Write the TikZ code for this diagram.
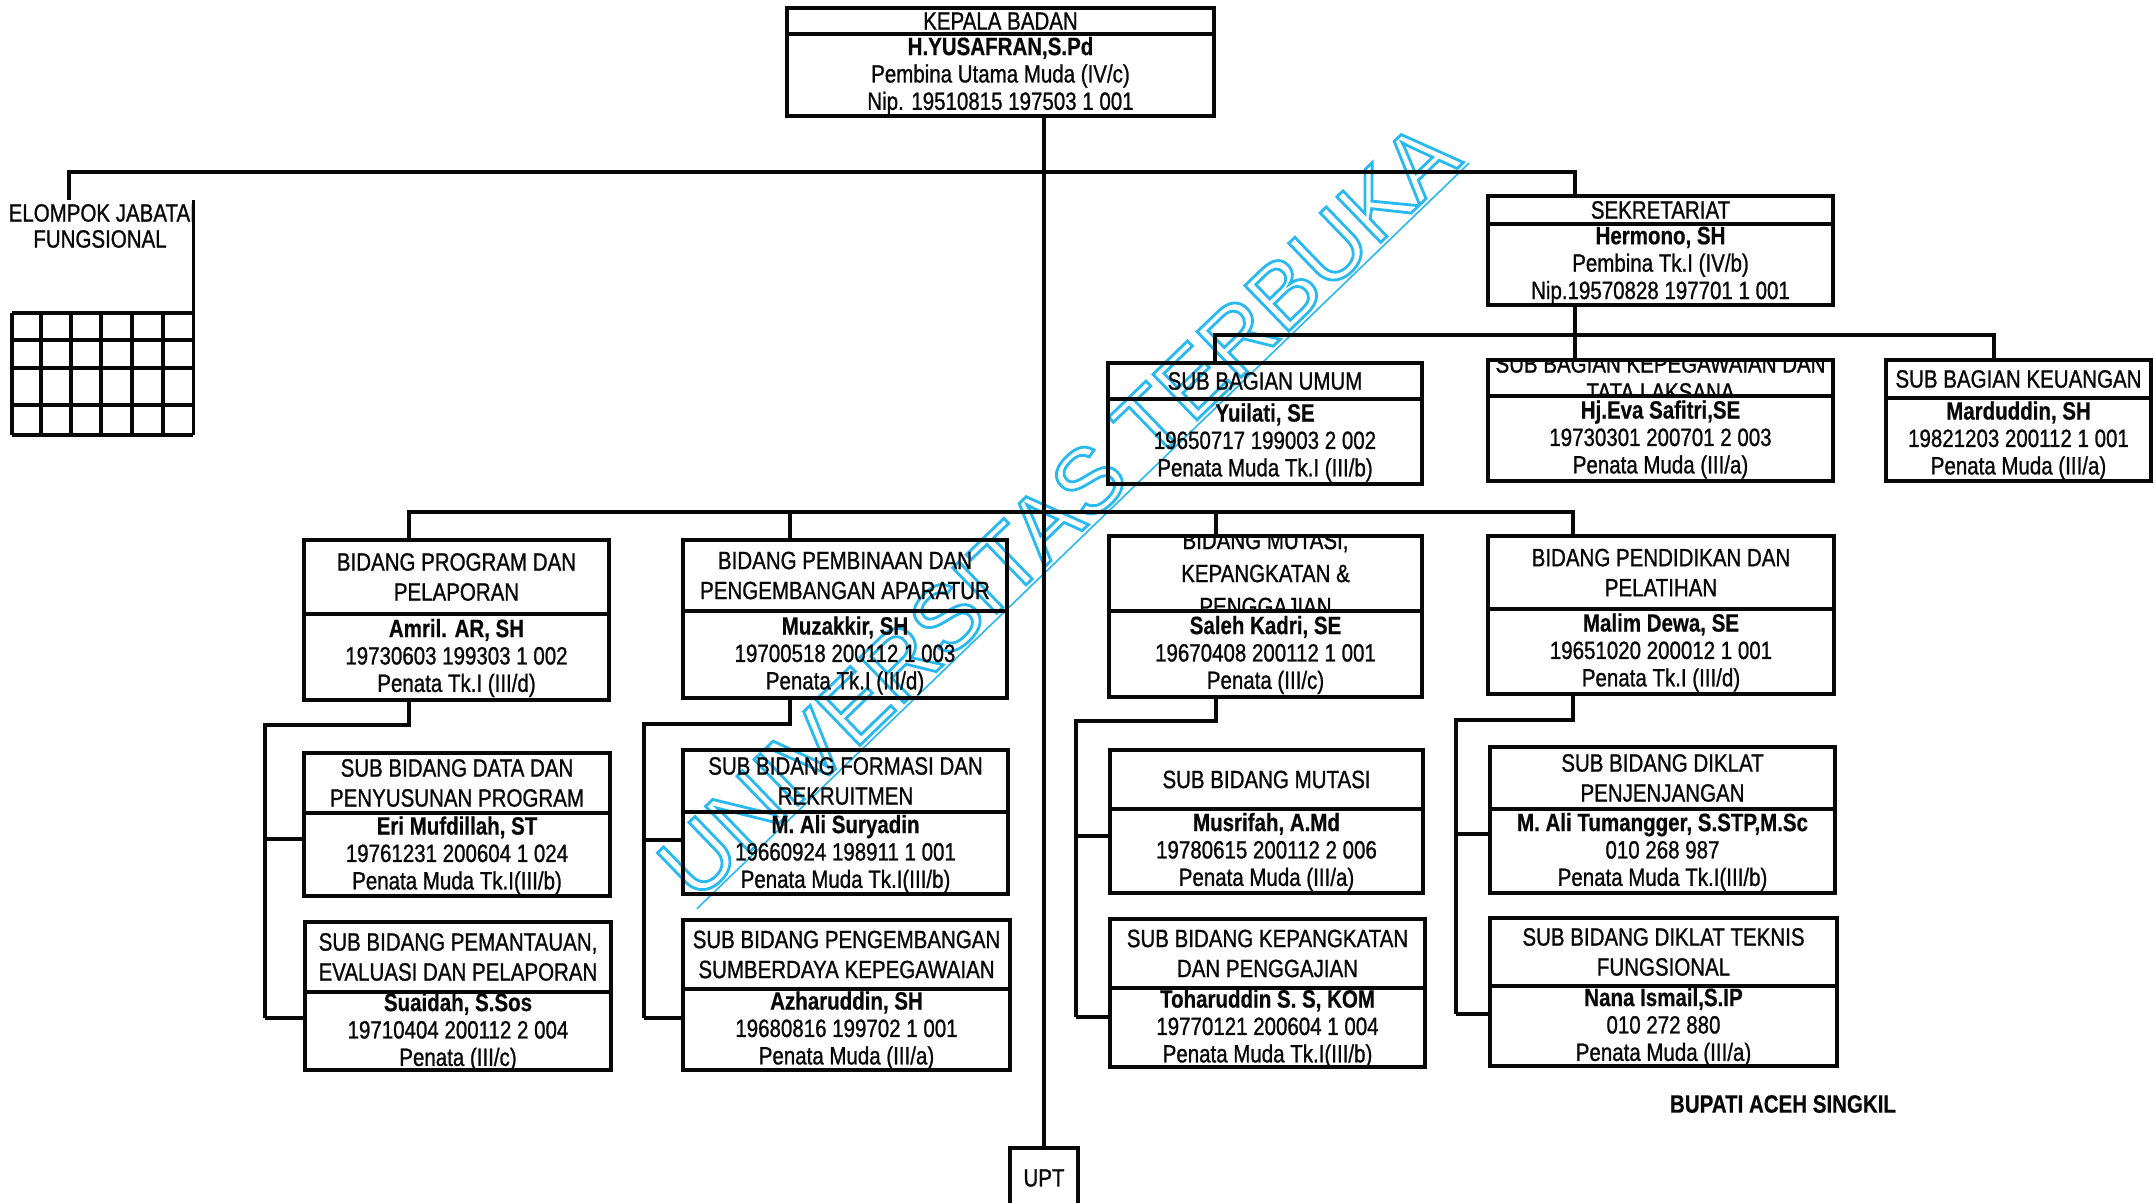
\documentclass[tikz,border=0pt]{standalone}
\usepackage{fontspec}
\setmainfont{Liberation Sans}[FakeStretch=0.82,
  UprightFeatures={FakeBold=1.0}, BoldFeatures={FakeBold=0.6}]
\newfontfamily\markfont{Liberation Sans}
\usetikzlibrary{fit}

\definecolor{inkblack}{RGB}{8,8,8}
\definecolor{markblue}{RGB}{40,185,240}

\tikzset{
  x=0.5pt, y=-0.5pt,
  unitframe/.style={draw=inkblack, line width=1.8pt, inner sep=0pt},
  unitline/.style={draw=inkblack, line width=1.7pt},
  unittitle/.style={inner sep=0pt, align=center, text=inkblack,
    font=\fontsize{12.5}{15}\selectfont},
  unitbody/.style={inner sep=0pt, align=center, text=inkblack,
    font=\fontsize{12.5}{13.7}\selectfont},
  link/.style={draw=inkblack, line width=1.6pt},
  gridline/.style={draw=inkblack, line width=2.2pt},
  plainlabel/.style={inner sep=0pt, align=center, text=inkblack,
    font=\fontsize{12.5}{13}\selectfont},
  stamp/.style={inner sep=1.5pt, text=markblue,
    font=\markfont\fontsize{46}{46}\selectfont},
  stampline/.style={draw=markblue, line width=0.8pt},
}

% #1 name, #2-#5 corners (x1,y1,x2,y2), #6 y of title divider,
% #7 title, #8 holder (bold), #9 remaining lines
\newcommand\orgunit[9]{%
  \node[unitframe, fit={(#2,#3) (#4,#5)}] (#1) {};
  \draw[unitline] (#1.west |- 0,#6) -- (#1.east |- 0,#6);
  \begin{scope}
    \clip (#1.north west) rectangle (#1.east |- 0,#6);
    \node[unittitle] (#1-title) at ({(#2+#4)/2},{(#3+#6)/2}) {#7};
  \end{scope}
  \node[unitbody] (#1-body) at ({(#2+#4)/2},{(#6+#5)/2+1}) {\textbf{#8}\\#9};
}

\begin{document}
\begin{tikzpicture}
\fill[white] (0,0) rectangle (2154,1203);
\useasboundingbox (0,0) rectangle (2154,1203);

% ---------- stamped watermark (outlined letters), set before the black text ----------
\node[stamp, rotate=44] (stamp) at (1058,510)
  {\special{pdf:literal direct 1 Tr 1.4 w}UNIVERSITAS TERBUKA};
\draw[stampline] (stamp.south west) -- (stamp.south east);

% ---------- head ----------
\orgunit{kepala}{787}{8}{1214}{116}{34}{KEPALA BADAN}{H.YUSAFRAN,S.Pd}
  {Pembina Utama Muda (IV/c)\\Nip. 19510815 197503 1 001}

% ---------- secretariat ----------
\orgunit{sek}{1488}{196}{1833}{305}{224}{SEKRETARIAT}{Hermono, SH}
  {Pembina Tk.I (IV/b)\\Nip.19570828 197701 1 001}

\orgunit{umum}{1108}{363}{1422}{484}{399}{SUB BAGIAN UMUM}{Yuilati, SE}
  {19650717 199003 2 002\\Penata Muda Tk.I (III/b)}
\orgunit{kepeg}{1488}{360}{1833}{481}{396}{SUB BAGIAN KEPEGAWAIAN DAN\\[-1pt]TATA LAKSANA}
  {Hj.Eva Safitri,SE}{19730301 200701 2 003\\Penata Muda (III/a)}
\orgunit{keu}{1886}{360}{2151}{481}{398}{SUB BAGIAN KEUANGAN}{Marduddin, SH}
  {19821203 200112 1 001\\Penata Muda (III/a)}

% ---------- divisions ----------
\orgunit{prog}{304}{540}{609}{700}{614}{BIDANG PROGRAM DAN\\PELAPORAN}{Amril. AR, SH}
  {19730603 199303 1 002\\Penata Tk.I (III/d)}
\orgunit{pemb}{683}{540}{1007}{698}{611}{BIDANG PEMBINAAN DAN\\PENGEMBANGAN APARATUR}
  {Muzakkir, SH}{19700518 200112 1 003\\Penata Tk.I (III/d)}
\orgunit{mut}{1109}{536}{1422}{697}{611}{BIDANG MUTASI,\\[1.5pt]KEPANGKATAN \&\\[1.5pt]PENGGAJIAN}
  {Saleh Kadri, SE}{19670408 200112 1 001\\Penata (III/c)}
\orgunit{pend}{1488}{536}{1834}{694}{609}{BIDANG PENDIDIKAN DAN\\PELATIHAN}
  {Malim Dewa, SE}{19651020 200012 1 001\\Penata Tk.I (III/d)}

% ---------- sub-divisions ----------
\orgunit{data}{304}{753}{610}{896}{813}{SUB BIDANG DATA DAN\\PENYUSUNAN PROGRAM}
  {Eri Mufdillah, ST}{19761231 200604 1 024\\Penata Muda Tk.I(III/b)}
\orgunit{pant}{305}{922}{611}{1070}{992}{SUB BIDANG PEMANTAUAN,\\EVALUASI DAN PELAPORAN}
  {Suaidah, S.Sos}{19710404 200112 2 004\\Penata (III/c)}

\orgunit{form}{683}{750}{1008}{894}{812}{SUB BIDANG FORMASI DAN\\REKRUITMEN}
  {M. Ali Suryadin}{19660924 198911 1 001\\Penata Muda Tk.I(III/b)}
\orgunit{peng}{683}{920}{1010}{1070}{989}{SUB BIDANG PENGEMBANGAN\\SUMBERDAYA KEPEGAWAIAN}
  {Azharuddin, SH}{19680816 199702 1 001\\Penata Muda (III/a)}

\orgunit{smut}{1110}{750}{1423}{893}{809}{SUB BIDANG MUTASI}
  {Musrifah, A.Md}{19780615 200112 2 006\\Penata Muda (III/a)}
\orgunit{kpk}{1110}{919}{1425}{1067}{988}{SUB BIDANG KEPANGKATAN\\DAN PENGGAJIAN}
  {Toharuddin S. S, KOM}{19770121 200604 1 004\\Penata Muda Tk.I(III/b)}

\orgunit{penj}{1490}{747}{1835}{893}{809}{SUB BIDANG DIKLAT\\PENJENJANGAN}
  {M. Ali Tumangger, S.STP,M.Sc}{010 268 987\\Penata Muda Tk.I(III/b)}
\orgunit{tekn}{1490}{918}{1837}{1066}{986}{SUB BIDANG DIKLAT TEKNIS\\FUNGSIONAL}
  {Nana Ismail,S.IP}{010 272 880\\Penata Muda (III/a)}

% ---------- technical unit ----------
\node[unitframe, fit={(1010,1148) (1078,1215)}] (upt) {};
\node[plainlabel] (upt-label) at (1044,1178) {UPT};

% ---------- functional group (cut at the left edge) ----------
\node[inner sep=0pt, fit={(12,200) (193,435)}] (kjf) {};
\begin{scope}
  \clip (10,190) rectangle (192,260);
  \node[plainlabel, font=\fontsize{12.5}{13}\selectfont] (kjf-title) at (100,226)
    {KELOMPOK JABATAN\\FUNGSIONAL};
\end{scope}
\draw[unitline] (kjf.north east) -- (kjf.south east);
\foreach \gy in {313,340,368,405,435}
  \draw[gridline] (kjf.west |- 0,\gy) -- (kjf.east |- 0,\gy);
\foreach \gx in {12,41,71,101,132,163}
  \draw[gridline] (\gx,313) -- (\gx,435);

% ---------- connectors ----------
\coordinate (spine) at (upt.north);
\draw[link] (spine |- kepala.south) -- (spine);

\coordinate (kjfjoin) at (69,172);
\coordinate (sekjoin) at (1575,172);
\draw[link] (kjfjoin |- kjf.north) -- (kjfjoin) -- (sekjoin) -- (sekjoin |- sek.north);

\coordinate (sekbus) at (1575,335);
\coordinate (umumjoin) at (1215,335);
\coordinate (keujoin) at (1994,335);
\draw[link] (sekbus |- sek.south) -- (sekbus);
\draw[link] (umumjoin |- umum.north) -- (umumjoin) -- (keujoin) -- (keujoin |- keu.north);
\draw[link] (sekbus) -- (sekbus |- kepeg.north);

\coordinate (progjoin) at (409,512);
\coordinate (pembjoin) at (790,512);
\coordinate (mutjoin) at (1216,512);
\coordinate (pendjoin) at (1573,512);
\draw[link] (progjoin |- prog.north) -- (progjoin) -- (pendjoin) -- (pendjoin |- pend.north);
\draw[link] (pembjoin) -- (pembjoin |- pemb.north);
\draw[link] (mutjoin) -- (mutjoin |- mut.north);

% division -> its two sub-divisions: #1 division, #2 drop x, #3 bend y,
% #4 rail x, #5 upper sub, #6 upper y, #7 lower sub, #8 lower y
\newcommand\subrail[8]{%
  \coordinate (#1-bend) at (#2,#3);
  \coordinate (#1-rail) at (#4,#3);
  \draw[link] (#1-bend |- #1.south) -- (#1-bend) -- (#1-rail) -- (#1-rail |- 0,#8);
  \draw[link] (#1-rail |- 0,#6) -- (#5.west |- 0,#6);
  \draw[link] (#1-rail |- 0,#8) -- (#7.west |- 0,#8);
}
\subrail{prog}{409}{725}{265}{data}{839}{pant}{1018}
\subrail{pemb}{790}{724}{644}{form}{840}{peng}{1018}
\subrail{mut}{1216}{721}{1076}{smut}{836}{kpk}{1017}
\subrail{pend}{1573}{720}{1456}{penj}{834}{tekn}{1014}

% ---------- signature line ----------
\node[plainlabel, font=\bfseries\fontsize{12.5}{13}\selectfont] (bupati) at (1783,1104)
  {BUPATI ACEH SINGKIL};
\end{tikzpicture}
\end{document}
